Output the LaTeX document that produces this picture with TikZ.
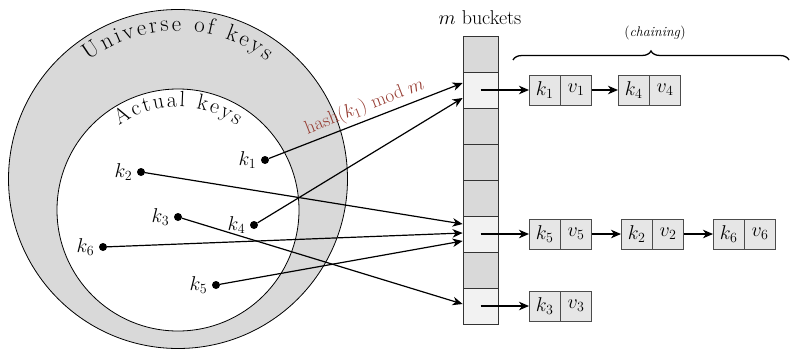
\documentclass[tikz,border=0pt]{standalone}
\usepackage{fix-cm}
\usepackage{fontspec}
\usetikzlibrary{arrows.meta,decorations.text,decorations.pathreplacing,calc,positioning}
\definecolor{ring}{RGB}{217,217,217}
\definecolor{lightcell}{RGB}{242,242,242}
\definecolor{darkcell}{RGB}{217,217,217}
\definecolor{pair}{RGB}{230,230,230}
\definecolor{hashred}{RGB}{150,60,50}
\begin{document}
\begin{tikzpicture}[x=1pt,y=1pt,
  every node/.style={font=\fontsize{20}{23}\selectfont},
  dot/.style={circle,fill=black,inner sep=0,minimum size=8},
  bucket/.style={draw=black!80,line width=0.8,minimum width=35,minimum height=36,inner sep=0},
  cell/.style={draw=black!70,fill=pair,line width=0.8,minimum width=30.5,minimum height=30,inner sep=0},
  arr/.style={line width=1.2,-{Stealth[length=10,width=8.5,inset=3]}},
  arctext/.style={decorate,decoration={text along path,text align={fit to path},text={#1}}}
]
\useasboundingbox (0,0) rectangle (790,349);
\coordinate (oc) at (178,170);
\coordinate (ic) at (178,139);
\draw[fill=ring,line width=0.8] (oc) circle[radius=169.5];
\draw[fill=white,line width=0.8] (ic) circle[radius=121];
\path[arctext={|\fontsize{23}{23}\selectfont|Universe of keys}] ($(oc)+(127:148)$) arc[start angle=127,end angle=53,radius=148];
\path[arctext={|\fontsize{22}{22}\selectfont|Actual keys}] ($(ic)+(125:103)$) arc[start angle=125,end angle=55,radius=103];

% buckets
\node[bucket,fill=darkcell]  (b1) at (480.5,295) {};
\node[bucket,fill=lightcell] (b2) at (480.5,259) {};
\node[bucket,fill=darkcell]  (b3) at (480.5,223) {};
\node[bucket,fill=darkcell]  (b4) at (480.5,187) {};
\node[bucket,fill=darkcell]  (b5) at (480.5,151) {};
\node[bucket,fill=lightcell] (b6) at (480.5,115) {};
\node[bucket,fill=darkcell]  (b7) at (480.5,79) {};
\node[bucket,fill=lightcell] (b8) at (480.5,43) {};
\node (mb) at (480,331) {$m$ buckets};

% chains
\node[cell,anchor=west] (ck1) at (529,259) {$k_1$};
\node[cell,right=0 of ck1] (cv1) {$v_1$};
\node[cell,anchor=west] (ck4) at (618,259) {$k_4$};
\node[cell,right=0 of ck4] (cv4) {$v_4$};
\node[cell,anchor=west] (ck5) at (529,115) {$k_5$};
\node[cell,right=0 of ck5] (cv5) {$v_5$};
\node[cell,anchor=west] (ck2) at (621,115) {$k_2$};
\node[cell,right=0 of ck2] (cv2) {$v_2$};
\node[cell,anchor=west] (ck6) at (713,115) {$k_6$};
\node[cell,right=0 of ck6] (cv6) {$v_6$};
\node[cell,anchor=west] (ck3) at (529,43) {$k_3$};
\node[cell,right=0 of ck3] (cv3) {$v_3$};

\draw[arr] (b2.center) -- (ck1.west);
\draw[arr] (cv1.east) -- (ck4.west);
\draw[arr] (b6.center) -- (ck5.west);
\draw[arr] (cv5.east) -- (ck2.west);
\draw[arr] (cv2.east) -- (ck6.west);
\draw[arr] (b8.center) -- (ck3.west);

% brace
\draw[line width=1.3,decorate,decoration={brace,amplitude=9}] (513,289) -- (789,289);
\node[font=\fontsize{14}{16}\selectfont] (chain) at (655,316) {(\textit{chaining})};

% keys
\node[dot,label={[label distance=1]left:$k_1$}] (k1) at (265,189) {};
\node[dot,label={[label distance=1]left:$k_2$}] (k2) at (141,177) {};
\node[dot,label={[label distance=1]left:$k_3$}] (k3) at (178,132) {};
\node[dot,label={[label distance=1]left:$k_4$}] (k4) at (254,124) {};
\node[dot,label={[label distance=1]left:$k_6$}] (k6) at (103,102) {};
\node[dot,label={[label distance=1]left:$k_5$}] (k5) at (216,64) {};

\draw[arr] (k1) -- ($(b2.west)+(0,7)$) node[pos=0.52,above=0,sloped,text=hashred,font=\fontsize{19}{22}\selectfont] (hl) {hash$(k_1)$ mod $m$};
\draw[arr] (k4) -- ($(b2.west)+(0,-8)$);
\draw[arr] (k2) -- ($(b6.west)+(0,10)$);
\draw[arr] (k6) -- ($(b6.west)+(0,1)$);
\draw[arr] (k5) -- ($(b6.west)+(0,-7)$);
\draw[arr] (k3) -- ($(b8.west)+(0,2)$);
\end{tikzpicture}
\end{document}
